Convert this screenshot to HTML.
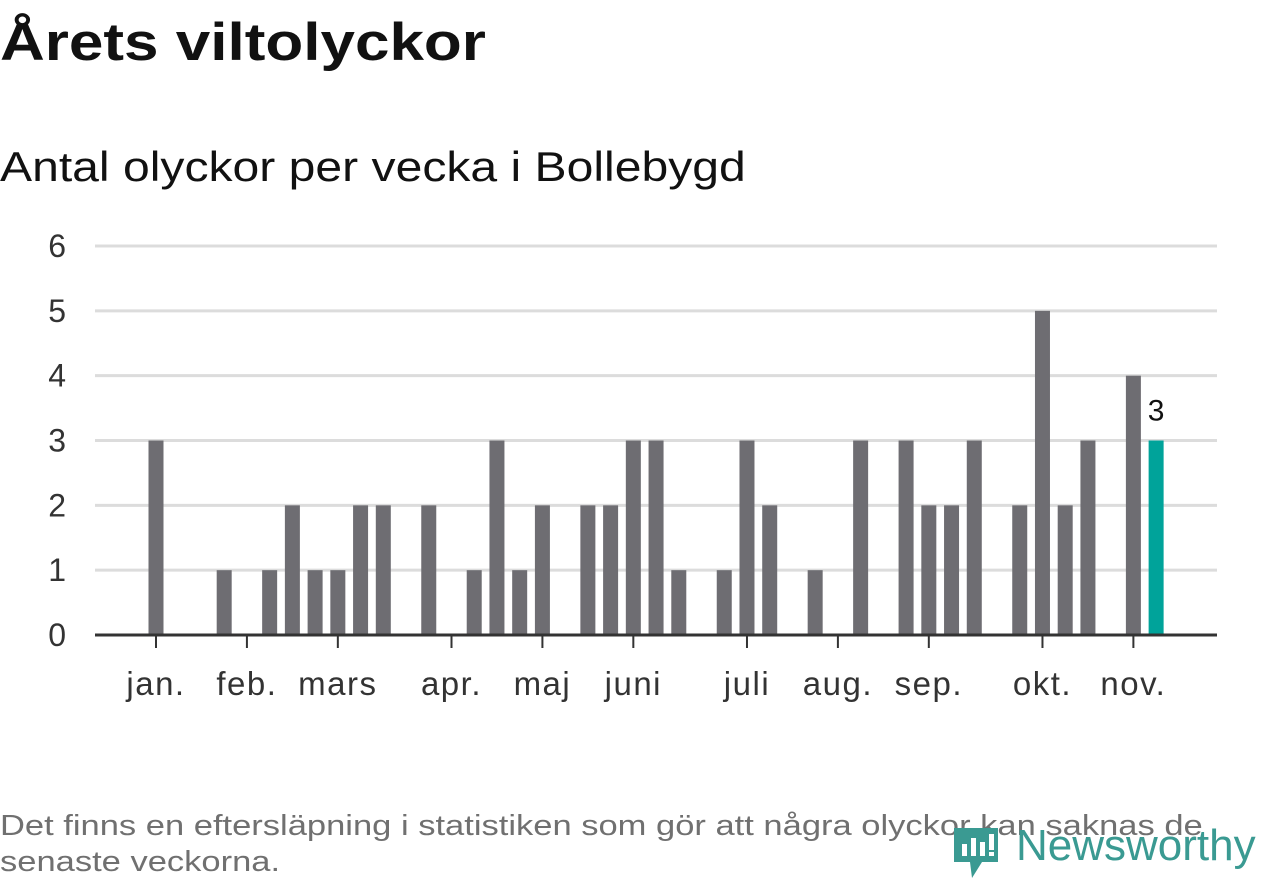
<!DOCTYPE html>
<html><head><meta charset="utf-8">
<style>
body{margin:0;width:1262px;height:879px;background:#fff;font-family:"Liberation Sans",sans-serif;overflow:hidden;position:relative}
#title{position:absolute;left:0;top:12px;font-size:53px;font-weight:bold;color:#111;margin:0;transform:scaleX(1.17);transform-origin:left top;white-space:nowrap}
#sub{position:absolute;left:0;top:143px;font-size:42px;color:#111;transform:scaleX(1.145);transform-origin:left top;white-space:nowrap}
#foot{position:absolute;left:0;top:808px;font-size:29px;color:#707070;line-height:36px;width:1045px;transform:scaleX(1.19);transform-origin:left top}
#logo{position:absolute;left:952px;top:820px}
</style></head><body>
<h1 id="title">Årets viltolyckor</h1>
<div id="sub">Antal olyckor per vecka i Bollebygd</div>
<svg id="chart" width="1262" height="879" style="position:absolute;left:0;top:0"></svg>
<div id="foot">Det finns en eftersläpning i statistiken som gör att några olyckor kan saknas de senaste veckorna.</div>
<svg id="logo" width="310" height="60">
<path d="M2 8 H46 V42 H30 L20 58 L18 42 H2 Z" fill="#3a9a92"/>
<rect x="10" y="24" width="5" height="12" fill="#fff"/><rect x="19" y="18" width="5" height="18" fill="#fff"/><rect x="28" y="22" width="5" height="14" fill="#fff"/><rect x="37" y="14" width="5" height="16" fill="#fff"/><rect x="37" y="32" width="5" height="4" fill="#fff"/>
<text x="64" y="40" font-family="Liberation Sans, sans-serif" font-size="44" fill="#3a9a92">Newsworthy</text>
</svg>
<script>
const weeks=[1,4,6,7,8,9,10,11,13,15,16,17,18,20,21,22,23,24,26,27,28,30,32,34,35,36,37,39,40,41,42,44,45];
const values=[3,1,1,2,1,1,2,2,2,1,3,1,2,2,2,3,3,1,1,3,2,1,3,3,2,2,3,2,5,2,3,4,3];
const yTicks=[0,1,2,3,4,5,6];
const monthLabels=["jan.","feb.","mars","apr.","maj","juni","juli","aug.","sep.","okt.","nov."];
const monthWeeks=[1,5,9,14,18,22,27,31,35,40,44];
const NS="http://www.w3.org/2000/svg";
const svg=document.getElementById('chart');
const x=w=>156+(w-1)*22.73;
const y=v=>635-v*64.83;
function el(t,a,txt){const e=document.createElementNS(NS,t);for(const k in a)e.setAttribute(k,a[k]);if(txt!==undefined)e.textContent=txt;svg.appendChild(e);return e;}
yTicks.forEach(t=>{
  if(t>0){const g=el('line',{x1:95,x2:1217,y1:y(t),y2:y(t),stroke:'#dcdcdc','stroke-width':3});
  
  }
  const l=el('text',{x:66,y:y(t)+11,'font-size':32,fill:'#333','text-anchor':'end'},t);
  
  
});
const last=weeks.length-1;
weeks.forEach((w,i)=>{
  const r=el('rect',{x:x(w)-7.5,y:y(values[i]),width:15,height:y(0)-y(values[i]),fill:i===last?'#00a39a':'#6e6d72'});
  
  
});
const lab=el('text',{x:x(weeks[last]),y:y(values[last])-20,'font-size':30,fill:'#111','text-anchor':'middle'},values[last]);


const ax=el('line',{x1:95,x2:1217,y1:635,y2:635,stroke:'#333','stroke-width':3});


monthWeeks.forEach((w,i)=>{
  const tk=el('line',{x1:x(w),x2:x(w),y1:635,y2:648,stroke:'#333','stroke-width':2});
  
  
  const t=el('text',{x:x(w),y:695,'font-size':33,'letter-spacing':1.5,fill:'#333','text-anchor':'middle'},monthLabels[i]);
  
  
});
</script>
</body></html>
